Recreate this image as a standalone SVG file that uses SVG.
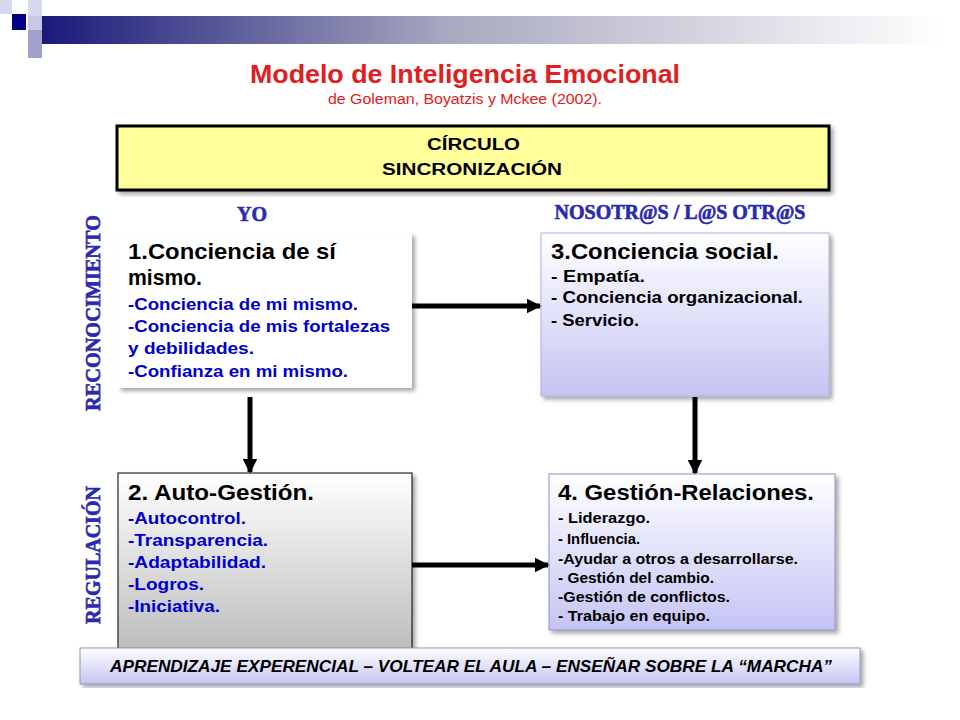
<svg xmlns="http://www.w3.org/2000/svg" width="960" height="720" viewBox="0 0 960 720">
<defs>
<linearGradient id="bar" x1="0" x2="1" y1="0" y2="0"><stop offset="0" stop-color="#1a1a7a"/><stop offset="0.45" stop-color="#a8a8c0"/><stop offset="1" stop-color="#ffffff"/></linearGradient>
<linearGradient id="blue" x1="0" x2="0" y1="0" y2="1"><stop offset="0" stop-color="#ffffff"/><stop offset="1" stop-color="#c4c4f4"/></linearGradient>
<linearGradient id="gray" x1="0" x2="0" y1="0" y2="1"><stop offset="0" stop-color="#ffffff"/><stop offset="1" stop-color="#bcbcbc"/></linearGradient>
<filter id="sh" x="-5%" y="-5%" width="115%" height="115%"><feDropShadow dx="3" dy="3" stdDeviation="2" flood-color="#000" flood-opacity="0.35"/></filter>
<marker id="ah" viewBox="0 0 10 10" refX="9" refY="5" markerWidth="3" markerHeight="3" orient="auto"><path d="M0,0L10,5L0,10z" fill="#000"/></marker>
</defs>
<style>
text{font-family:"Liberation Sans",Arial,sans-serif;}
.h{font-size:22px;font-weight:bold;fill:#000}
.b{font-size:16px;font-weight:bold;fill:#0000cc}
.k{font-size:16px;font-weight:bold;fill:#000}
.s{font-size:14px;font-weight:bold;fill:#000}
.side{font-family:"Liberation Serif",serif;font-weight:bold;font-size:20px;fill:#2a2ab0;stroke:#2a2ab0;stroke-width:0.6}
.c{stroke:#000;stroke-width:5;fill:none}
</style>
<g id="deco">
<rect x="0" y="0" width="12" height="14" fill="#d8d8ee"/>
<rect x="28" y="0" width="14" height="16" fill="#d8d8ee"/>
<rect x="12" y="14" width="14" height="16" fill="#000080"/>
<rect x="28" y="16" width="14" height="14" fill="#c8c8e4"/>
<rect x="28" y="30" width="14" height="14" fill="#a0a0cc"/>
<rect x="42" y="16" width="900" height="28" fill="url(#bar)"/>
<rect x="28" y="44" width="14" height="14" fill="#a0a0cc"/>
</g>
<g id="title">
<text x="250" y="83" textLength="430" lengthAdjust="spacingAndGlyphs" font-size="25" font-weight="bold" fill="#e02020">Modelo de Inteligencia Emocional</text>
<text x="328" y="104" textLength="274" lengthAdjust="spacingAndGlyphs" font-size="14" fill="#e02020">de Goleman, Boyatzis y Mckee (2002).</text>
</g>
<g id="circulo">
<rect x="117" y="126" width="712" height="64" fill="#ffff99" stroke="#000" stroke-width="3" filter="url(#sh)"/>
<text x="427" y="150" textLength="93" lengthAdjust="spacingAndGlyphs" class="k">CÍRCULO</text>
<text x="382" y="175" textLength="180" lengthAdjust="spacingAndGlyphs" class="k">SINCRONIZACIÓN</text>
</g>
<text x="252" y="221" text-anchor="middle" class="side" font-size="17">YO</text>
<text x="680" y="219" text-anchor="middle" class="side" font-size="17">NOSOTR@S / L@S OTR@S</text>
<text class="side" transform="translate(100,313) rotate(-90)" text-anchor="middle" textLength="196" lengthAdjust="spacingAndGlyphs">RECONOCIMIENTO</text>
<text class="side" transform="translate(100,555) rotate(-90)" text-anchor="middle">REGULACIÓN</text>
<g id="n1">
<rect x="118" y="233" width="294" height="155" fill="#fff" filter="url(#sh)"/>
<text x="128" y="259" class="h" textLength="208" lengthAdjust="spacingAndGlyphs">1.Conciencia de sí</text>
<text x="128" y="285" class="h" textLength="74" lengthAdjust="spacingAndGlyphs">mismo.</text>
<text x="128" y="310" class="b" textLength="230" lengthAdjust="spacingAndGlyphs">-Conciencia de mi mismo.</text>
<text x="128" y="332" class="b" textLength="262" lengthAdjust="spacingAndGlyphs">-Conciencia de mis fortalezas</text>
<text x="128" y="354" class="b" textLength="126" lengthAdjust="spacingAndGlyphs">y debilidades.</text>
<text x="128" y="377" class="b" textLength="220" lengthAdjust="spacingAndGlyphs">-Confianza en mi mismo.</text>
</g>
<g id="n3">
<rect x="541" y="233" width="288" height="163" fill="url(#blue)" stroke="#b0b0e0" filter="url(#sh)"/>
<text x="551" y="259" class="h" textLength="228" lengthAdjust="spacingAndGlyphs">3.Conciencia social.</text>
<text x="551" y="282" class="k" textLength="94" lengthAdjust="spacingAndGlyphs">- Empatía.</text>
<text x="551" y="303" class="k" textLength="252" lengthAdjust="spacingAndGlyphs">- Conciencia organizacional.</text>
<text x="551" y="326" class="k" textLength="88" lengthAdjust="spacingAndGlyphs">- Servicio.</text>
</g>
<g id="n2">
<rect x="118" y="473" width="294" height="180" fill="url(#gray)" stroke="#000" filter="url(#sh)"/>
<text x="128" y="500" class="h" textLength="186" lengthAdjust="spacingAndGlyphs">2. Auto-Gestión.</text>
<text x="128" y="524" class="b" textLength="118" lengthAdjust="spacingAndGlyphs">-Autocontrol.</text>
<text x="128" y="546" class="b" textLength="140" lengthAdjust="spacingAndGlyphs">-Transparencia.</text>
<text x="128" y="568" class="b" textLength="138" lengthAdjust="spacingAndGlyphs">-Adaptabilidad.</text>
<text x="128" y="590" class="b" textLength="76" lengthAdjust="spacingAndGlyphs">-Logros.</text>
<text x="128" y="612" class="b" textLength="92" lengthAdjust="spacingAndGlyphs">-Iniciativa.</text>
</g>
<g id="n4">
<rect x="549" y="474" width="286" height="156" fill="url(#blue)" stroke="#9090c8" filter="url(#sh)"/>
<text x="558" y="500" class="h" textLength="256" lengthAdjust="spacingAndGlyphs">4. Gestión-Relaciones.</text>
<text x="558" y="523" class="s" textLength="92" lengthAdjust="spacingAndGlyphs">- Liderazgo.</text>
<text x="558" y="544" class="s" textLength="82" lengthAdjust="spacingAndGlyphs">- Influencia.</text>
<text x="558" y="564" class="s" textLength="240" lengthAdjust="spacingAndGlyphs">-Ayudar a otros a desarrollarse.</text>
<text x="558" y="583" class="s" textLength="156" lengthAdjust="spacingAndGlyphs">- Gestión  del cambio.</text>
<text x="558" y="602" class="s" textLength="172" lengthAdjust="spacingAndGlyphs">-Gestión de conflictos.</text>
<text x="558" y="621" class="s" textLength="152" lengthAdjust="spacingAndGlyphs">- Trabajo en equipo.</text>
</g>
<g id="connectors">
<line x1="412" y1="306" x2="540" y2="306" class="c" stroke-width="4" marker-end="url(#ah)"/>
<line x1="250" y1="397" x2="250" y2="472" class="c" marker-end="url(#ah)"/>
<line x1="695" y1="397" x2="695" y2="473" class="c" marker-end="url(#ah)"/>
<line x1="412" y1="565" x2="548" y2="565" class="c" stroke-width="4" marker-end="url(#ah)"/>
</g>
<g id="footer">
<rect x="80" y="648" width="780" height="36" fill="url(#blue)" stroke="#9090c8" filter="url(#sh)"/>
<text x="110" y="672" textLength="722" lengthAdjust="spacingAndGlyphs" font-size="17" font-style="italic" font-weight="bold" fill="#000">APRENDIZAJE EXPERENCIAL – VOLTEAR  EL AULA – ENSEÑAR SOBRE LA “MARCHA”</text>
</g>
</svg>
